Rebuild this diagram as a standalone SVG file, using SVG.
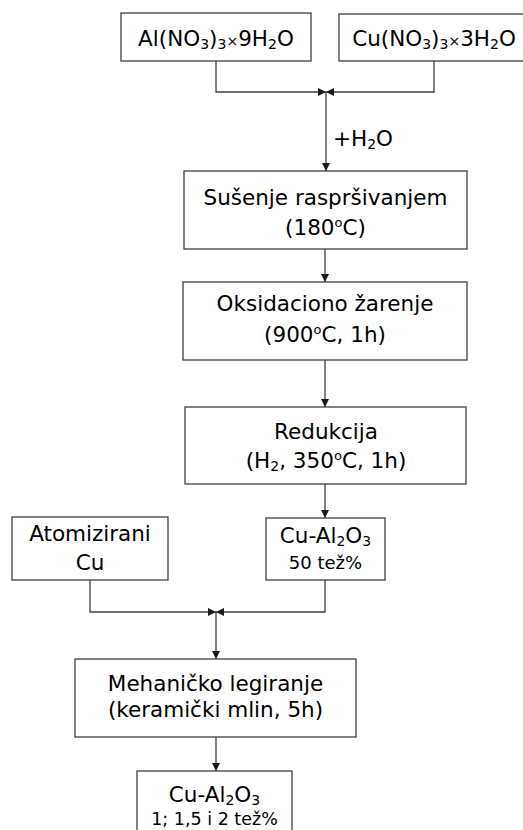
<svg xmlns="http://www.w3.org/2000/svg" width="523" height="830" viewBox="0 0 523 830">
<style>
.box{fill:#fff;stroke:#404040;stroke-width:1.3}
.conn{fill:none;stroke:#404040;stroke-width:1.3}
.t{font-family:"DejaVu Sans",Verdana,sans-serif;font-size:21.5px;text-anchor:middle;fill:#000}
.s{font-size:18px}
.sub{font-size:14px}
.sup{font-size:13px}
</style>
<defs>
<marker id="arr" viewBox="0 0 10 10" refX="10" refY="5" markerWidth="9" markerHeight="8" markerUnits="userSpaceOnUse" orient="auto">
<path d="M0,0 L10,5 L0,10 z" fill="#1a1a1a"/>
</marker>
</defs>
<rect width="523" height="830" fill="#fff"/>
<g id="connectors">
<path class="conn" d="M216,61 V92 H326" marker-end="url(#arr)"/>
<path class="conn" d="M434,61 V92 H326" marker-end="url(#arr)"/>
<path class="conn" d="M326,92 V171" marker-end="url(#arr)"/>
<path class="conn" d="M325,249 V282" marker-end="url(#arr)"/>
<path class="conn" d="M325,360 V407" marker-end="url(#arr)"/>
<path class="conn" d="M325,484 V518" marker-end="url(#arr)"/>
<path class="conn" d="M90,580 V612 H216" marker-end="url(#arr)"/>
<path class="conn" d="M325,580 V612 H216" marker-end="url(#arr)"/>
<path class="conn" d="M216,612 V659" marker-end="url(#arr)"/>
<path class="conn" d="M216,737 V771" marker-end="url(#arr)"/>
<text class="t" x="333" y="146" style="text-anchor:start">+H<tspan class="sub" dy="3">2</tspan><tspan dy="-3">O</tspan></text>
</g>
<g id="n1">
<rect class="box" x="121" y="13" width="190" height="48"/>
<text class="t" x="216" y="46">Al(NO<tspan class="sub" dy="3">3</tspan><tspan dy="-3">)</tspan><tspan class="sub" dy="3">3</tspan><tspan class="sub" dy="-3">×</tspan>9H<tspan class="sub" dy="3">2</tspan><tspan dy="-3">O</tspan></text>
</g>
<g id="n2">
<rect class="box" x="339" y="14" width="192" height="47"/>
<text class="t" x="434" y="46">Cu(NO<tspan class="sub" dy="3">3</tspan><tspan dy="-3">)</tspan><tspan class="sub" dy="3">3</tspan><tspan class="sub" dy="-3">×</tspan>3H<tspan class="sub" dy="3">2</tspan><tspan dy="-3">O</tspan></text>
</g>
<g id="n3">
<rect class="box" x="184" y="171" width="283" height="78"/>
<text class="t" x="325.5" y="205">Sušenje raspršivanjem</text>
<text class="t" x="325.5" y="235">(180<tspan class="sup" dy="-8">o</tspan><tspan dy="8">C)</tspan></text>
</g>
<g id="n4">
<rect class="box" x="183" y="282" width="284" height="78"/>
<text class="t" x="325" y="311">Oksidaciono žarenje</text>
<text class="t" x="325" y="342">(900<tspan class="sup" dy="-8">o</tspan><tspan dy="8">C, 1h)</tspan></text>
</g>
<g id="n5">
<rect class="box" x="185" y="407" width="281" height="77"/>
<text class="t" x="326" y="439">Redukcija</text>
<text class="t" x="326" y="468">(H<tspan class="sub" dy="3">2</tspan><tspan dy="-3">, 350</tspan><tspan class="sup" dy="-8">o</tspan><tspan dy="8">C, 1h)</tspan></text>
</g>
<g id="n6">
<rect class="box" x="12" y="517" width="156" height="63"/>
<text class="t" x="90" y="541">Atomizirani</text>
<text class="t" x="90" y="570">Cu</text>
</g>
<g id="n7">
<rect class="box" x="266" y="518" width="119" height="62"/>
<text class="t" x="325.5" y="543">Cu-Al<tspan class="sub" dy="3">2</tspan><tspan dy="-3">O</tspan><tspan class="sub" dy="3">3</tspan></text>
<text class="t s" x="325.5" y="569">50 tež%</text>
</g>
<g id="n8">
<rect class="box" x="75" y="659" width="281" height="78"/>
<text class="t" x="215.5" y="691">Mehaničko legiranje</text>
<text class="t" x="215.5" y="717">(keramički mlin, 5h)</text>
</g>
<g id="n9">
<rect class="box" x="137" y="771" width="155" height="70"/>
<text class="t" x="214.5" y="802">Cu-Al<tspan class="sub" dy="3">2</tspan><tspan dy="-3">O</tspan><tspan class="sub" dy="3">3</tspan></text>
<text class="t s" x="214.5" y="825" style="font-size:17.5px">1; 1,5 i 2 tež%</text>
</g>
</svg>
